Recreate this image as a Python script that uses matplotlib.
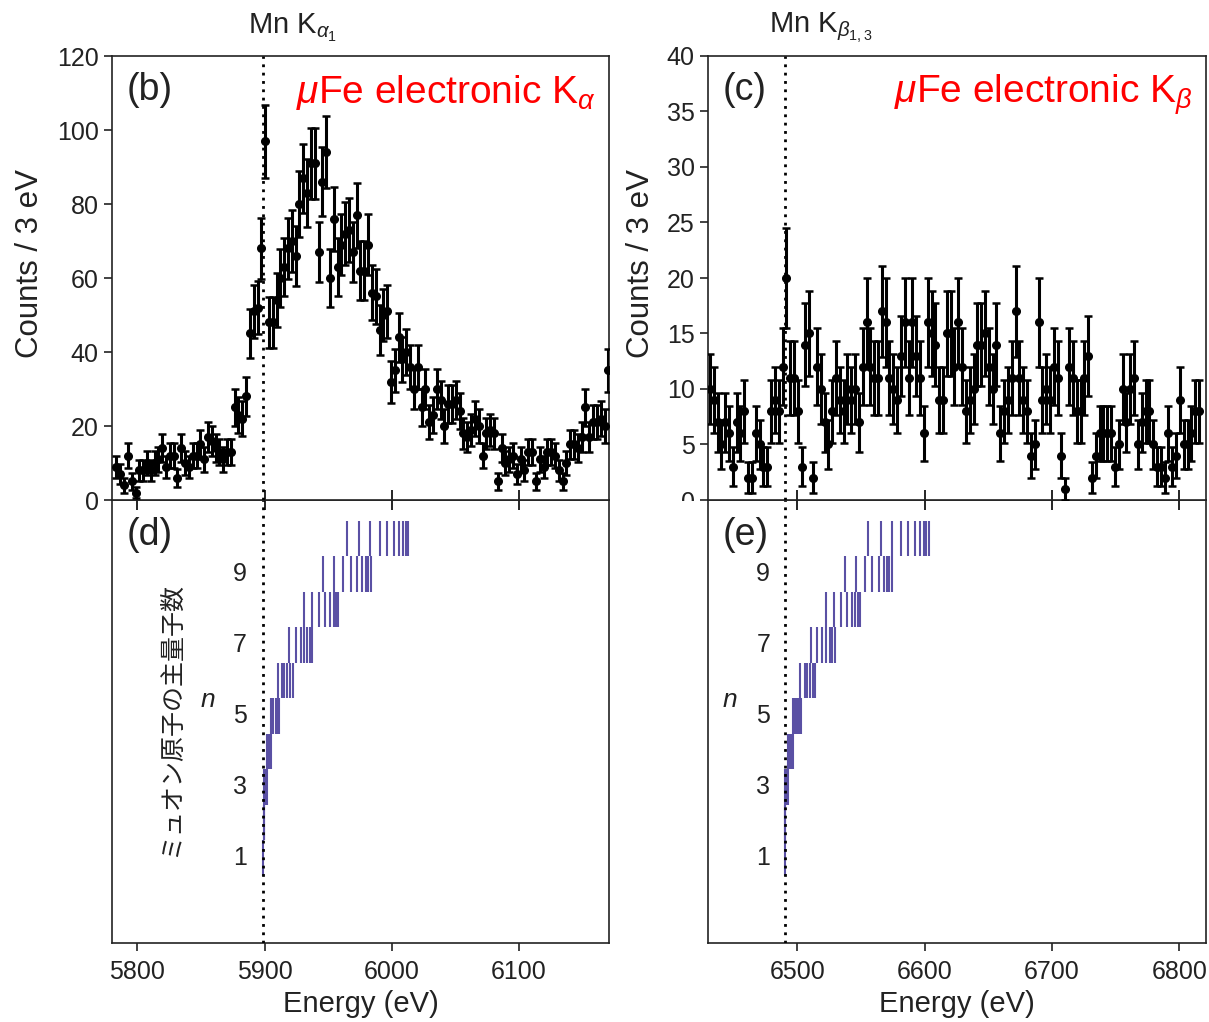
import numpy as np
import matplotlib
matplotlib.use('Agg')
import matplotlib.pyplot as plt
from matplotlib.patches import Rectangle

plt.rcParams['font.family'] = ['Liberation Sans', 'DejaVu Sans']
plt.rcParams['mathtext.fontset'] = 'custom'
plt.rcParams['mathtext.rm'] = 'Liberation Sans'
plt.rcParams['mathtext.it'] = 'Liberation Sans:italic'
plt.rcParams['mathtext.bf'] = 'Liberation Sans:bold'

# ---------------- data ----------------
bin_width = 3.0
ka_start = 5783.5
ka_counts = [9, 7, 4, 12, 5, 2, 8, 8, 10, 8, 10, 11, 14, 9, 12, 12, 6, 14, 10, 9,
             12, 12, 15, 11, 17, 16, 14, 13, 11, 13, 13, 25, 23, 22, 28, 45, 51, 52, 68, 97,
             48, 48, 54, 60, 63, 68, 70, 66, 80, 87, 83, 91, 91, 67, 86, 94, 60, 76, 63, 69,
             72, 73, 67, 77, 62, 62, 69, 56, 55, 46, 50, 51, 32, 35, 44, 38, 40, 36, 30, 36,
             25, 30, 21, 23, 30, 27, 20, 26, 26, 27, 24, 18, 17, 19, 22, 20, 12, 18, 19, 18,
             5, 14, 10, 11, 12, 7, 11, 8, 13, 13, 5, 11, 9, 13, 13, 12, 8, 5, 10, 15,
             15, 14, 17, 25, 17, 21, 21, 22, 20, 35]

kb_start = 6431.5
kb_counts = [10, 9, 7, 5, 7, 6, 3, 7, 6, 8, 2, 2, 6, 5, 3, 3, 8, 9, 8, 12,
             20, 11, 11, 8, 3, 14, 15, 2, 12, 10, 7, 5, 8, 11, 9, 8, 10, 9, 10, 7,
             12, 16, 12, 11, 11, 17, 16, 11, 10, 9, 13, 16, 11, 16, 13, 11, 6, 16, 15, 14,
             9, 9, 15, 15, 12,
             16, 12, 8, 9, 10, 14, 14, 15, 12, 10, 14, 6, 8, 9, 11, 17, 11, 9, 8, 4,
             5, 16, 9, 10, 9, 12, 11, 4, 1, 12, 11, 8, 8, 11, 13, 2, 4, 6, 6, 6,
             6, 3, 5, 10, 7, 10, 11, 5, 7, 8, 8, 5, 3, 3, 2, 6, 3, 4, 9, 5,
             5, 6, 8, 8]

mn_ka1 = 5898.75
mn_kb13 = 6490.45

# muonic-atom principal quantum number n = 1..10 : electronic line energies (eV)
ka_levels = [
    [5898.9],
    [5899.2, 5899.4],
    [5899.8, 5900.6, 5901.6],
    [5901.6, 5902.9, 5904.1, 5905.0],
    [5905.0, 5906.8, 5908.8, 5910.4, 5911.5],
    [5910.5, 5914.1, 5915.7, 5917.3, 5919.9, 5922.3],
    [5919.4, 5924.7, 5928.6, 5931.2, 5933.3, 5935.4, 5937.7],
    [5931.2, 5937.7, 5943.2, 5947.7, 5951.8, 5954.5, 5956.3, 5957.9],
    [5946.1, 5954.5, 5962.0, 5968.1, 5973.0, 5977.0, 5979.6, 5981.5, 5983.7],
    [5964.7, 5974.6, 5983.3, 5990.9, 5996.6, 6001.9, 6006.0, 6008.7, 6011.0, 6013.2],
]
kb_levels = [
    [6490.3],
    [6490.4, 6490.6],
    [6490.8, 6491.9, 6492.9],
    [6493.2, 6494.5, 6495.7, 6496.6],
    [6496.6, 6498.4, 6500.2, 6501.8, 6503.1],
    [6502.1, 6506.0, 6508.1, 6510.3, 6512.3, 6514.1],
    [6510.7, 6515.7, 6519.8, 6523.0, 6525.5, 6527.7, 6529.5],
    [6522.5, 6529.3, 6534.7, 6539.2, 6543.1, 6545.7, 6547.6, 6549.0],
    [6537.4, 6545.9, 6553.1, 6559.1, 6564.1, 6568.0, 6570.4, 6572.5, 6574.3],
    [6555.9, 6565.6, 6574.3, 6581.3, 6587.3, 6592.5, 6596.5, 6599.3, 6601.5, 6603.3],
]

ka_ticks = [5800, 5900, 6000, 6100]
kb_ticks = [6500, 6600, 6700, 6800]
n_labels = [1, 3, 5, 7, 9]

# ---------------- figure ----------------
W, H = 1209, 1022
fig = plt.figure(figsize=(W / 100, H / 100), dpi=100)

def ax_at(x0, y0, x1, y1):
    return fig.add_axes([x0 / W, 1 - y1 / H, (x1 - x0) / W, (y1 - y0) / H])

axd = ax_at(112, 500, 609, 943)
axe = ax_at(708, 500, 1206, 943)
axb = ax_at(112, 56, 609, 500)
axc = ax_at(708, 56, 1206, 500)
axb.set_zorder(3)
axc.set_zorder(3)

txt = '#222222'
lvl_color = '#5a50a4'
fs_tick = 18
fs_lab = 21

for ax in (axb, axc, axd, axe):
    for sp in ax.spines.values():
        sp.set_linewidth(1.2)
        sp.set_color('#222222')

def top_panel(ax, start, counts, xlim, ylim, yticks, line_e, label, red):
    e = start + bin_width * np.arange(len(counts))
    c = np.array(counts, dtype=float)
    ax.errorbar(e, c, yerr=np.sqrt(c), fmt='o', color='black', ms=5.5,
                elinewidth=2.2, capsize=3, capthick=1.8, zorder=3)
    ax.axvline(line_e, color='black', ls=(0, (1, 2)), lw=2, zorder=4)
    ax.set_xlim(*xlim)
    ax.set_ylim(*ylim)
    ax.set_yticks(yticks)
    ax.tick_params(axis='y', direction='out', length=6, width=1.2,
                   labelsize=fs_tick, colors=txt)
    ax.tick_params(axis='x', direction='inout', length=14, width=1.2,
                   labelbottom=False)
    ax.text(0.03, 0.90, label, transform=ax.transAxes, fontsize=27,
            color=txt, ha='left', va='baseline')
    ax.text(0.974, 0.894, red, transform=ax.transAxes, fontsize=28,
            color='red', ha='right', va='baseline')

def bottom_panel(ax, levels, xlim, ticks, line_e, label, num_x, n_x, jp_x=None):
    for n, es in enumerate(levels, start=1):
        ax.vlines(es, n - 0.5, n + 0.5, color=lvl_color, lw=1.5)
    ax.axvline(line_e, color='black', ls=(0, (1, 2)), lw=2, zorder=4)
    ax.set_xlim(*xlim)
    ax.set_ylim(-1.4, 11.08)
    ax.set_xticks(ticks)
    ax.set_yticks([])
    ax.tick_params(axis='x', direction='out', length=6, width=1.2,
                   labelsize=fs_tick, colors=txt, pad=6)
    ax.set_xlabel('Energy (eV)', fontsize=fs_lab, color=txt)
    ax.xaxis.set_label_coords(0.5, -0.105)
    ax.xaxis.label.set_va('top')
    for v in n_labels:
        ax.text(num_x, v, str(v), fontsize=fs_tick, color=txt,
                ha='right', va='center')
    ax.text(n_x, 5.45, r'$n$', fontsize=fs_tick + 1, color=txt,
            ha='center', va='center')
    if jp_x is not None:
        ax.text(jp_x, 4.9, 'ミュオン原子の主量子数', fontsize=18, color=txt,
                rotation=90, ha='center', va='center',
                family=['Noto Sans CJK JP', 'DejaVu Sans'])
    ax.text(0.03, 0.898, label, transform=ax.transAxes, fontsize=27,
            color=txt, ha='left', va='baseline')

top_panel(axb, ka_start, ka_counts, (5780, 6171), (0, 120), np.arange(0, 121, 20),
          mn_ka1, '(b)', r'$\mu$Fe electronic K$_{\alpha}$')
top_panel(axc, kb_start, kb_counts, (6430, 6821), (0, 40), np.arange(0, 41, 5),
          mn_kb13, '(c)', r'$\mu$Fe electronic K$_{\beta}$')
axb.set_xticks(ka_ticks)
axc.set_xticks(kb_ticks)

bottom_panel(axd, ka_levels, (5780, 6171), ka_ticks, mn_ka1, '(d)', 5886.3, 5855.4, 5826)
bottom_panel(axe, kb_levels, (6430, 6821), kb_ticks, mn_kb13, '(e)', 6478.8, 6446.7)

# y labels and headers
for xc in (30, 641):
    fig.text(xc / W, 1 - 263 / H, 'Counts / 3 eV', rotation=90, fontsize=22.5,
             color=txt, ha='center', va='center')
fig.text(293 / W, 1 - 28 / H, r'Mn K$_{\alpha_1}$', fontsize=21, color=txt,
         ha='center', va='center')
fig.text(821 / W, 1 - 28 / H, r'Mn K$_{\beta_{1,3}}$', fontsize=21, color=txt,
         ha='center', va='center')

# the "0" tick label of panel (c) is partly hidden by panel (e)
fig.add_artist(Rectangle((660 / W, 1 - 514 / H), 46 / W, 13 / H,
                         transform=fig.transFigure, facecolor='white',
                         edgecolor='none', zorder=10))

fig.savefig('out.png', dpi=100)
